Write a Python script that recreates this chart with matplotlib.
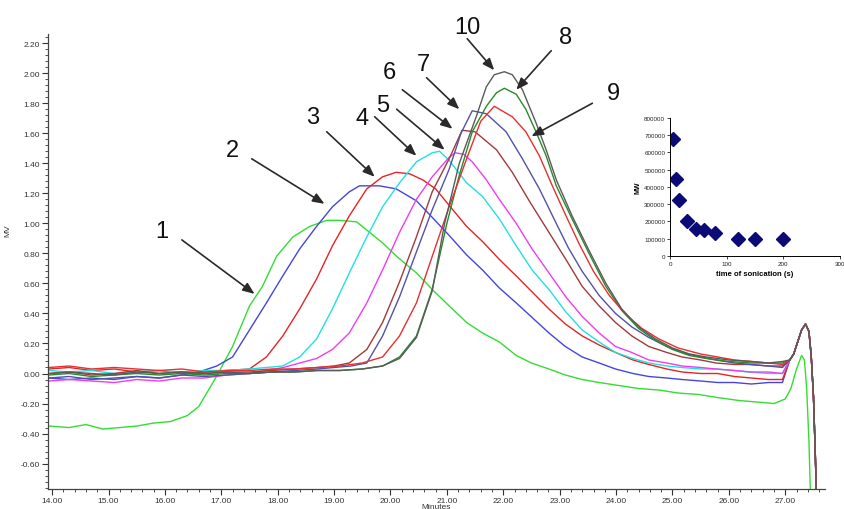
import numpy as np
import matplotlib
matplotlib.use("Agg")
import matplotlib.pyplot as plt
from matplotlib.ticker import MultipleLocator, FormatStrFormatter

plt.rcParams['font.family'] = ['Liberation Sans', 'DejaVu Sans']

# ---- chromatogram traces (time in minutes, detector response in MV) ----
t1 = [13.95, 14.3, 14.6, 14.9, 15.2, 15.5, 15.8, 16.1, 16.4, 16.6, 16.71, 16.9, 17.2, 17.5, 17.73,
      17.98, 18.27, 18.57, 18.87, 19.1, 19.4, 19.63, 19.86, 20.11, 20.46, 20.74, 21.04, 21.35, 21.63,
      21.93, 22.23, 22.5, 22.81, 23.1, 23.4, 23.7, 24.05, 24.4, 24.76, 25.1, 25.47, 25.8, 26.18, 26.5,
      26.8, 27.0, 27.1, 27.2, 27.29, 27.34, 27.38, 27.42, 27.45]
y1 = [-0.35, -0.36, -0.34, -0.37, -0.36, -0.35, -0.33, -0.32, -0.28, -0.22, -0.15, -0.03, 0.18, 0.45, 0.58,
      0.78, 0.91, 0.98, 1.02, 1.02, 1.01, 0.94, 0.87, 0.78, 0.67, 0.56, 0.45, 0.34, 0.27,
      0.21, 0.12, 0.07, 0.03, -0.01, -0.04, -0.06, -0.08, -0.1, -0.11, -0.13, -0.14, -0.16, -0.18, -0.19,
      -0.2, -0.17, -0.1, 0.03, 0.12, 0.09, -0.1, -0.45, -0.85]

t2 = [13.95, 14.3, 14.7, 15.1, 15.5, 15.9, 16.3, 16.6, 16.92, 17.2, 17.5, 17.8, 18.09, 18.39, 18.69, 18.97,
      19.27, 19.45, 19.63, 19.8, 20.1, 20.46, 20.74, 21.04, 21.35, 21.63, 21.93, 22.23, 22.52, 22.81, 23.1,
      23.4, 23.7, 23.99, 24.3, 24.58, 24.9, 25.17, 25.5, 25.8, 26.1, 26.4, 26.7, 26.95]
y2 = [-0.03, -0.04, -0.03, -0.04, -0.02, -0.03, -0.01, 0.01, 0.05, 0.11, 0.29, 0.47, 0.65, 0.83, 0.98, 1.11,
      1.21, 1.25, 1.25, 1.25, 1.23, 1.15, 1.04, 0.92, 0.79, 0.69, 0.57, 0.47, 0.37, 0.27, 0.18,
      0.11, 0.07, 0.03, 0.0, -0.02, -0.03, -0.04, -0.05, -0.06, -0.06, -0.07, -0.06, -0.06]

t3 = [13.95, 14.3, 14.7, 15.1, 15.5, 15.9, 16.3, 16.7, 17.1, 17.5, 17.8, 18.09, 18.39, 18.69, 18.97, 19.27,
      19.58, 19.86, 20.1, 20.34, 20.57, 20.8, 21.04, 21.35, 21.63, 21.93, 22.23, 22.52, 22.81, 23.1, 23.4,
      23.7, 23.99, 24.3, 24.58, 24.9, 25.17, 25.5, 25.8, 26.1, 26.4, 26.7, 26.95]
y3 = [0.03, 0.04, 0.02, 0.03, 0.01, 0.02, 0.0, 0.01, 0.02, 0.03, 0.11, 0.25, 0.43, 0.63, 0.85, 1.05,
      1.23, 1.31, 1.34, 1.33, 1.29, 1.23, 1.12, 0.98, 0.88, 0.76, 0.65, 0.54, 0.43, 0.33, 0.25,
      0.19, 0.14, 0.09, 0.06, 0.03, 0.01, 0.0, 0.0, -0.02, -0.03, -0.04, -0.04]

t4 = [13.95, 14.3, 14.7, 15.1, 15.5, 15.9, 16.3, 16.7, 17.1, 17.5, 17.8, 18.09, 18.39, 18.69, 18.97, 19.27,
      19.58, 19.86, 20.16, 20.46, 20.74, 20.87, 21.04, 21.35, 21.63, 21.93, 22.23, 22.51, 22.81, 23.11, 23.4,
      23.7, 23.99, 24.3, 24.58, 24.9, 25.17, 25.5, 25.77, 26.1, 26.35, 26.7, 26.95]
y4 = [0.02, 0.01, 0.02, 0.0, 0.01, 0.02, 0.01, 0.02, 0.02, 0.03, 0.04, 0.05, 0.11, 0.23, 0.43, 0.67,
      0.91, 1.11, 1.27, 1.41, 1.47, 1.48, 1.42, 1.27, 1.18, 1.03, 0.85, 0.69, 0.56, 0.41, 0.29,
      0.21, 0.14, 0.1, 0.07, 0.05, 0.04, 0.03, 0.03, 0.02, 0.01, 0.0, 0.0]

t5 = [13.95, 14.3, 14.7, 15.1, 15.5, 15.9, 16.3, 16.7, 17.1, 17.5, 17.8, 18.1, 18.39, 18.69, 18.97, 19.27,
      19.58, 19.86, 20.16, 20.46, 20.74, 21.04, 21.15, 21.3, 21.45, 21.7, 21.93, 22.23, 22.51, 22.81, 23.11,
      23.4, 23.7, 23.99, 24.28, 24.58, 24.9, 25.17, 25.5, 25.77, 26.1, 26.4, 26.7, 26.95]
y5 = [-0.05, -0.04, -0.05, -0.06, -0.04, -0.05, -0.03, -0.03, -0.01, 0.0, 0.02, 0.04, 0.07, 0.1, 0.16, 0.27,
      0.47, 0.69, 0.94, 1.16, 1.31, 1.44, 1.47, 1.46, 1.41, 1.29, 1.16, 1.0, 0.83, 0.67, 0.51,
      0.38, 0.27, 0.18, 0.14, 0.09, 0.07, 0.05, 0.04, 0.03, 0.02, 0.01, 0.01, 0.0]

t6 = [13.95, 14.3, 14.7, 15.1, 15.5, 15.9, 16.3, 16.7, 17.1, 17.5, 17.9, 18.3, 18.7, 19.0, 19.27, 19.58,
      19.86, 20.16, 20.46, 20.74, 21.04, 21.27, 21.5, 21.88, 22.16, 22.46, 22.81, 23.11, 23.4, 23.7, 23.99,
      24.28, 24.58, 24.9, 25.17, 25.5, 25.77, 26.1, 26.35, 26.7, 26.95]
y6 = [0.0, 0.01, -0.01, 0.0, 0.02, 0.0, 0.01, 0.0, 0.01, 0.01, 0.02, 0.03, 0.04, 0.05, 0.07, 0.16,
      0.34, 0.61, 0.91, 1.21, 1.43, 1.62, 1.61, 1.49, 1.34, 1.15, 0.94, 0.76, 0.58, 0.45, 0.34,
      0.25, 0.18, 0.14, 0.11, 0.09, 0.07, 0.06, 0.06, 0.05, 0.05]

t7 = [13.95, 14.3, 14.7, 15.1, 15.5, 15.9, 16.3, 16.7, 17.1, 17.5, 17.9, 18.3, 18.7, 19.0, 19.3, 19.58,
      19.86, 20.16, 20.46, 20.74, 21.04, 21.25, 21.45, 21.7, 22.05, 22.34, 22.64, 22.9, 23.15, 23.4, 23.7,
      23.99, 24.28, 24.58, 24.9, 25.17, 25.5, 25.77, 26.1, 26.4, 26.7, 26.95]
y7 = [-0.03, -0.02, -0.04, -0.03, -0.02, -0.03, -0.01, -0.02, -0.01, 0.0, 0.01, 0.02, 0.03, 0.04, 0.05, 0.07,
      0.25, 0.51, 0.81, 1.09, 1.36, 1.6, 1.75, 1.73, 1.61, 1.43, 1.23, 1.03, 0.84, 0.68, 0.52,
      0.4, 0.31, 0.24, 0.18, 0.14, 0.11, 0.09, 0.07, 0.06, 0.05, 0.04]

t8 = [13.95, 14.3, 14.7, 15.1, 15.5, 15.9, 16.3, 16.7, 17.1, 17.5, 17.9, 18.3, 18.7, 19.1, 19.5, 19.86,
      20.16, 20.46, 20.74, 21.0, 21.22, 21.45, 21.7, 21.88, 22.02, 22.23, 22.4, 22.58, 22.76, 22.94, 23.22,
      23.52, 23.82, 24.1, 24.4, 24.7, 25.0, 25.3, 25.6, 26.0, 26.4, 26.7, 26.95]
y8 = [-0.01, 0.0, -0.02, -0.01, 0.0, -0.01, 0.0, -0.01, 0.0, 0.0, 0.01, 0.01, 0.02, 0.02, 0.03, 0.05,
      0.11, 0.25, 0.56, 1.0, 1.32, 1.61, 1.78, 1.87, 1.9, 1.86, 1.76, 1.61, 1.45, 1.25, 1.03,
      0.8, 0.58, 0.42, 0.3, 0.22, 0.16, 0.12, 0.1, 0.08, 0.07, 0.07, 0.07]

t9 = [13.95, 14.3, 14.7, 15.1, 15.5, 15.9, 16.3, 16.7, 17.1, 17.5, 17.9, 18.3, 18.7, 19.1, 19.5, 19.86,
      20.16, 20.46, 20.74, 21.04, 21.35, 21.6, 21.84, 22.16, 22.4, 22.64, 22.87, 23.1, 23.35, 23.6, 23.88,
      24.18, 24.46, 24.76, 25.1, 25.5, 25.8, 26.1, 26.4, 26.7, 26.95]
y9 = [0.04, 0.05, 0.03, 0.04, 0.03, 0.02, 0.03, 0.01, 0.02, 0.02, 0.03, 0.03, 0.04, 0.05, 0.07, 0.11,
      0.25, 0.47, 0.78, 1.11, 1.43, 1.68, 1.78, 1.71, 1.61, 1.45, 1.25, 1.06, 0.86, 0.68, 0.52,
      0.39, 0.3, 0.23, 0.17, 0.13, 0.11, 0.09, 0.08, 0.07, 0.06]

t10 = [13.95, 14.3, 14.7, 15.1, 15.5, 15.9, 16.3, 16.7, 17.1, 17.5, 17.9, 18.3, 18.7, 19.1, 19.5, 19.86,
       20.16, 20.46, 20.74, 20.96, 21.22, 21.52, 21.7, 21.84, 22.02, 22.16, 22.34, 22.58, 22.76, 22.94, 23.22,
       23.52, 23.82, 24.1, 24.4, 24.7, 25.0, 25.3, 25.6, 26.0, 26.4, 26.7, 26.95]
y10 = [0.0, 0.01, 0.0, -0.01, 0.01, 0.0, 0.01, 0.0, 0.01, 0.0, 0.01, 0.01, 0.02, 0.02, 0.03, 0.05,
       0.1, 0.24, 0.55, 1.0, 1.4, 1.71, 1.91, 1.99, 2.01, 1.99, 1.89, 1.67, 1.49, 1.29, 1.05,
       0.82, 0.6, 0.43, 0.31, 0.23, 0.17, 0.13, 0.11, 0.09, 0.08, 0.07, 0.08]

# late-eluting system peak shared by traces 2-10
end_t = [27.08, 27.15, 27.22, 27.29, 27.36, 27.42, 27.46, 27.5, 27.53, 27.56]
end_y = [0.09, 0.13, 0.21, 0.29, 0.33, 0.28, 0.12, -0.15, -0.5, -0.9]

# inset: molecular weight vs sonication time
son_time = [5, 10, 15, 30, 45, 60, 80, 120, 150, 200]
mw = [680000, 445000, 322000, 202000, 158000, 148000, 133000, 96000, 100000, 100000]

colors = ['#33dd33', '#4545e0', '#e52525', '#22e0e0', '#f03cf0',
          '#a23a3a', '#5252a8', '#2a8a2a', '#e83030', '#5a5a5a']

traces = [(t1, y1), (t2, y2), (t3, y3), (t4, y4), (t5, y5),
          (t6, y6), (t7, y7), (t8, y8), (t9, y9), (t10, y10)]

fig = plt.figure(figsize=(8.45, 5.1), dpi=100)
ax = fig.add_axes([0.057, 0.039, 0.919, 0.892])

for i, (t, y) in enumerate(traces):
    if i == 0:
        ax.plot(t, y, color=colors[i], lw=1.0)
    else:
        ax.plot(list(t) + end_t, list(y) + end_y, color=colors[i], lw=1.0)

ax.set_xlim(13.93, 27.7)
ax.set_ylim(-0.77, 2.26)
ax.xaxis.set_major_locator(MultipleLocator(1))
ax.xaxis.set_minor_locator(MultipleLocator(0.2))
ax.yaxis.set_major_locator(MultipleLocator(0.2))
ax.yaxis.set_minor_locator(MultipleLocator(0.04))
ax.xaxis.set_major_formatter(FormatStrFormatter('%.2f'))
ax.yaxis.set_major_formatter(FormatStrFormatter('%.2f'))
ax.set_xticks(np.arange(14, 27.5, 1))
ax.set_yticks(np.arange(-0.6, 2.21, 0.2))
ax.tick_params(which='major', length=4, width=0.8, labelsize=6, colors='#333333', pad=2)
ax.tick_params(which='minor', length=2, width=0.6, colors='#333333')
for s in ['top', 'right']:
    ax.spines[s].set_visible(False)
for s in ['left', 'bottom']:
    ax.spines[s].set_color('#444444')
    ax.spines[s].set_linewidth(0.9)

ax.set_xlabel('Minutes', fontsize=6, color='#333333', labelpad=-1)
ax.set_ylabel('MV', fontsize=6, color='#333333')
ax.yaxis.set_label_coords(-0.048, 0.57)

# numbered arrows: (label, text position, arrow start, arrow tip)
notes = [
    ('1', (15.95, 0.95), (16.30, 0.89), (17.59, 0.53)),
    ('2', (17.20, 1.49), (17.54, 1.43), (18.83, 1.13)),
    ('3', (18.62, 1.71), (18.87, 1.61), (19.72, 1.31)),
    ('4', (19.49, 1.70), (19.72, 1.71), (20.46, 1.45)),
    ('5', (19.86, 1.79), (20.11, 1.76), (20.96, 1.49)),
    ('6', (19.98, 2.01), (20.21, 1.89), (21.10, 1.63)),
    ('7', (20.58, 2.06), (20.64, 1.97), (21.22, 1.76)),
    ('10', (21.36, 2.31), (21.36, 2.23), (21.84, 2.02)),
    ('8', (23.10, 2.24), (22.85, 2.15), (22.23, 1.89)),
    ('9', (23.96, 1.87), (23.58, 1.80), (22.50, 1.58)),
]
for lab, tp, start, tip in notes:
    ax.text(tp[0], tp[1], lab, fontsize=17, ha='center', va='center', color='#111111', clip_on=False)
    ax.annotate('', xy=tip, xytext=start, annotation_clip=False,
                arrowprops=dict(arrowstyle='-|>,head_length=0.7,head_width=0.28',
                                color='#2a2a2a', lw=1.2, shrinkA=0, shrinkB=0))

# inset
ins = fig.add_axes([0.793, 0.496, 0.201, 0.271])
ins.plot(son_time, mw, 'D', color='#0b0b78', markersize=7.5, linestyle='none')
ins.set_xlim(0, 300)
ins.set_ylim(0, 800000)
ins.set_xticks([0, 100, 200, 300])
ins.set_yticks(np.arange(0, 800001, 100000))
ins.tick_params(labelsize=4.5, length=2, width=0.6, pad=1.5, colors='#222222')
for s in ['top', 'right']:
    ins.spines[s].set_visible(False)
for s in ['left', 'bottom']:
    ins.spines[s].set_linewidth(0.7)
ins.set_xlabel('time of sonication (s)', fontsize=5.5, fontweight='bold', labelpad=3)
ins.set_ylabel('MW', fontsize=5, fontweight='bold', labelpad=2)

fig.savefig('out.png', dpi=100)
